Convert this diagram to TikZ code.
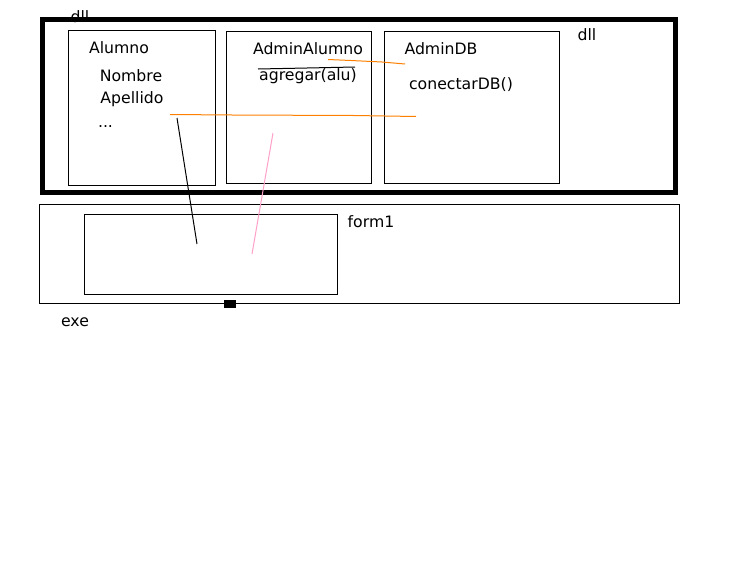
\documentclass[tikz,border=0pt]{standalone}
\usepackage{fontspec}
\setmainfont{DejaVu Sans}
\begin{document}
\begin{tikzpicture}[x=1pt,y=-1pt,
  thin box/.style={draw=black,line width=1pt},
  lbl/.style={inner sep=0pt,font=\fontsize{15.7}{18}\selectfont,anchor=center},
  orangeline/.style={draw={rgb,255:red,255;green,128;blue,0},line width=1pt},
  pinkline/.style={draw={rgb,255:red,255;green,160;blue,200},line width=1pt},
  blackline/.style={draw=black,line width=1pt}]
\useasboundingbox (0,0) rectangle (756,565);
% top-left dll label (partly hidden by the thick frame)
\node[lbl,anchor=base] (dlltop) at (80,22) {dll};
% thick dll frame
\draw[line width=5pt] (42,19.5) rectangle (675,192.5);
% class boxes
\draw[thin box] (68.5,30.5) rectangle (215.5,185.5);
\draw[thin box] (226.5,31.5) rectangle (371.5,183.5);
\draw[thin box] (384.5,31.5) rectangle (559.5,183.5);
% exe frame
\draw[thin box] (39.5,204.5) rectangle (679.5,303.5);
\draw[thin box] (84.5,214.5) rectangle (337.5,294.5);
\fill[black] (224,300) rectangle (236,307.5);
% texts
\node[lbl] (dllr) at (587,35) {dll};
\node[lbl] (alumno) at (119,48) {Alumno};
\node[lbl] (nombre) at (131,76) {Nombre};
\node[lbl] (apellido) at (132,99) {Apellido};
\node[lbl,anchor=base] (dots) at (105.5,127.5) {...};
\node[lbl] (adminalumno) at (308,49) {AdminAlumno};
\node[lbl] (agregar) at (308,76) {agregar(alu)};
\node[lbl] (admindb) at (441,49) {AdminDB};
\node[lbl] (conectar) at (461,85) {conectarDB()};
\node[lbl] (form1) at (371,222) {form1};
\node[lbl] (exe) at (75,322) {exe};
% overline above agregar
\coordinate (ov1) at (258,69);
\coordinate (ov2) at (307,68);
\coordinate (ov3) at (355,67);
\draw[blackline] (ov1) -- (ov2) -- (ov3);
% orange lines
\coordinate (oa1) at (328,59.5);
\coordinate (oa2) at (351,60.5);
\coordinate (oa3) at (382,62);
\coordinate (oa4) at (405,64);
\draw[orangeline] (oa1) -- (oa2) -- (oa3) -- (oa4);
\coordinate (ob1) at (170,114.5);
\coordinate (ob2) at (232,115);
\coordinate (ob3) at (354,115.5);
\coordinate (ob4) at (416,116.5);
\draw[orangeline] (ob1) -- (ob2) -- (ob3) -- (ob4);
% black slanted line
\coordinate (bl1) at (177,118);
\coordinate (bl2) at (197,244);
\draw[blackline] (bl1) -- (bl2);
% pink slanted line
\coordinate (pk1) at (273,133);
\coordinate (pk2) at (252,254);
\draw[pinkline] (pk1) -- (pk2);
\end{tikzpicture}
\end{document}
